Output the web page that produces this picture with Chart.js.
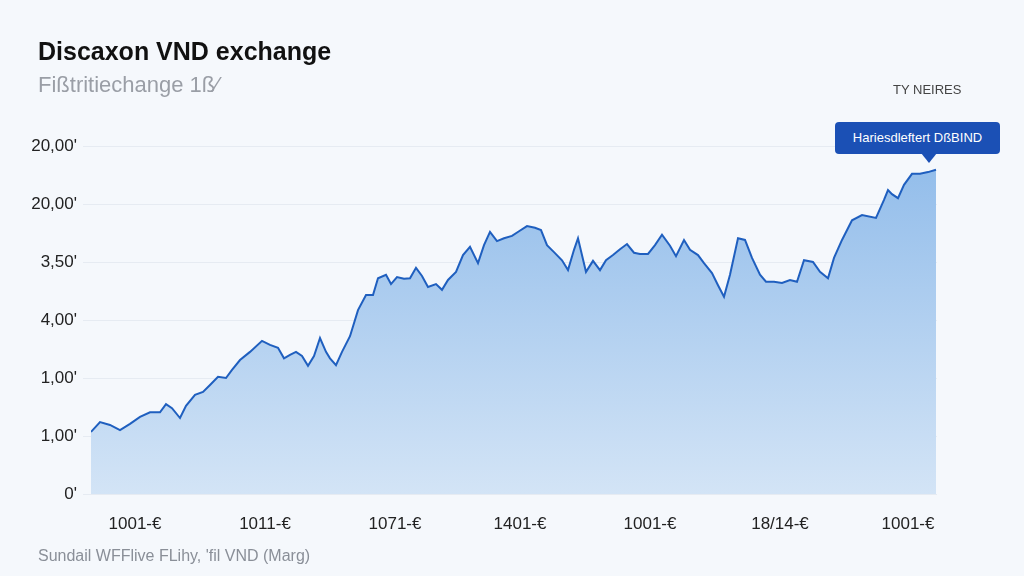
<!DOCTYPE html>
<html><head><meta charset="utf-8">
<script src="https://cdn.jsdelivr.net/npm/chart.js@4"></script>
<style>
body{margin:0;width:1024px;height:576px;background:#f5f8fc;overflow:hidden;font-family:"Liberation Sans",Arial,sans-serif;position:relative}
#c{position:absolute;left:0;top:0}
.t{position:absolute;white-space:nowrap}
</style></head><body>
<canvas id="c" width="1024" height="576"></canvas>
<div class="t" style="left:38px;top:37px;font-size:25px;font-weight:bold;color:#111">Discaxon VND exchange</div>
<div class="t" style="left:38px;top:72px;font-size:22px;color:#9a9ea6">Fißtritiechange 1ß⁄</div>
<div class="t" style="left:893px;top:82px;font-size:13px;color:#444">TY NEIRES</div>
<div class="t" style="left:835px;top:122px;width:165px;height:32px;background:#1b50b5;border-radius:4px;color:#fff;font-size:13px;line-height:32px;text-align:center">Hariesdleftert DßBIND</div>
<div class="t" style="left:921px;top:153px;width:0;height:0;border-left:8px solid transparent;border-right:8px solid transparent;border-top:10px solid #1b50b5"></div>
<div class="t" style="left:38px;top:547px;font-size:16px;color:#8a8f98">Sundail WFFlive FLihy, 'fil VND (Marg)</div>
<script>
const days=[0,9,19,29,39,49,59,69,75,81,89,95,104,112,119,127,135,141,149,159,171,179,187,193,199,205,211,217,223,229,235,239,245,251,259,267,275,282,287,295,300,306,313,319,325,331,337,345,351,357,365,372,379,387,393,399,406,413,421,428,436,444,450,456,463,471,477,483,487,495,502,509,515,522,529,536,543,549,557,564,571,579,585,593,599,607,613,621,627,633,639,647,654,661,669,675,683,691,699,706,713,722,729,737,743,751,761,771,785,793,797,801,807,813,821,829,837,845];
const rates=[1.07,1.24,1.19,1.10,1.21,1.33,1.41,1.41,1.55,1.48,1.31,1.52,1.71,1.76,1.88,2.02,2.00,2.14,2.31,2.45,2.64,2.57,2.52,2.34,2.40,2.45,2.38,2.21,2.38,2.69,2.45,2.34,2.22,2.45,2.72,3.17,3.43,3.43,3.72,3.78,3.62,3.74,3.71,3.72,3.90,3.76,3.57,3.62,3.52,3.69,3.83,4.12,4.26,3.98,4.29,4.52,4.36,4.41,4.45,4.53,4.62,4.59,4.55,4.29,4.17,4.03,3.86,4.21,4.41,3.83,4.02,3.86,4.03,4.12,4.22,4.31,4.16,4.14,4.14,4.29,4.47,4.28,4.10,4.38,4.21,4.12,3.98,3.81,3.60,3.40,3.78,4.41,4.38,4.07,3.78,3.66,3.66,3.64,3.69,3.66,4.03,4.00,3.83,3.72,4.07,4.38,4.72,4.81,4.76,5.07,5.24,5.17,5.10,5.33,5.52,5.52,5.55,5.59];
const yLabels=["0'","1,00'","1,00'","4,00'","3,50'","20,00'","20,00'"];
const xTickPos=[44,174,304,429,559,689,817];
const xLabels=["1001-€","1011-€","1071-€","1401-€","1001-€","18/14-€","1001-€"];
const pts=days.slice(0,Math.min(days.length,rates.length)).map((d,i)=>({x:d,y:rates[i]}));
const ctx=document.getElementById('c').getContext('2d');
const grad=ctx.createLinearGradient(0,146,0,494);
grad.addColorStop(0,'#8fbbea');grad.addColorStop(1,'#d3e4f6');
new Chart(ctx,{type:'line',data:{datasets:[{data:pts,borderColor:'#1f5fbf',borderWidth:2,backgroundColor:grad,fill:'origin',pointRadius:0,tension:0}]},
options:{responsive:false,animation:false,layout:{padding:{left:0,right:87,top:146,bottom:0}},
plugins:{legend:{display:false},tooltip:{enabled:false}},
scales:{x:{type:'linear',min:0,max:846,grid:{display:false},border:{display:false},
afterBuildTicks:s=>{s.ticks=xTickPos.map(v=>({value:v}));},
afterFit:s=>{s.height=82;},
ticks:{autoSkip:false,maxRotation:0,padding:12,color:'#222',font:{size:17,family:'Liberation Sans'},callback:(v)=>xLabels[xTickPos.indexOf(v)]}},
y:{min:0,max:6,grid:{color:'#e6ebf2'},border:{display:false},afterFit:s=>{s.width=91;},
ticks:{stepSize:1,padding:6,color:'#222',font:{size:17,family:'Liberation Sans'},callback:v=>yLabels[v]}}}}});
</script></body></html>
